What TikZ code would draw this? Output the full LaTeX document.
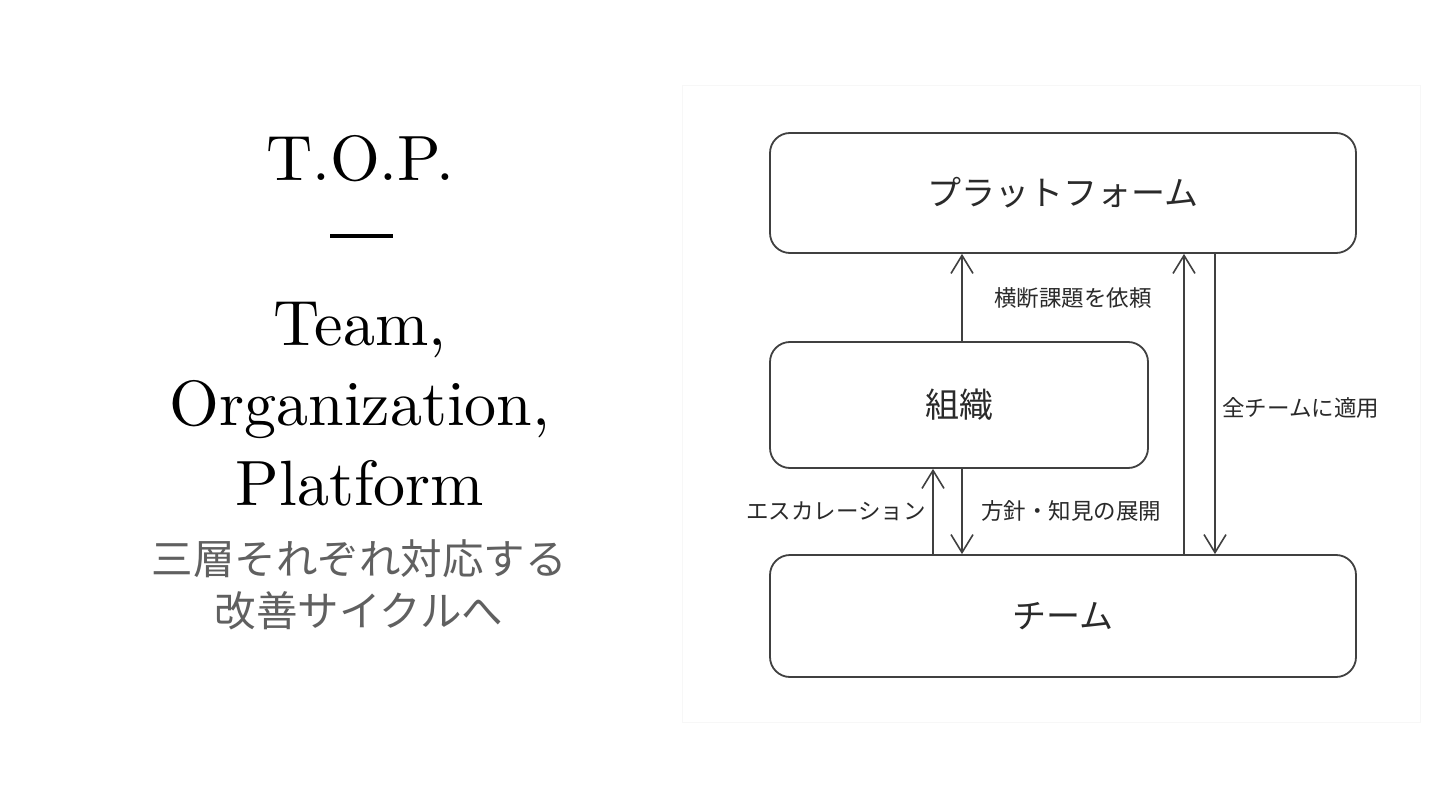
\documentclass[tikz,border=0pt]{standalone}
\usepackage{fontspec}
\newfontfamily\jp{Noto Sans CJK JP}
\newfontfamily\lmten[Extension=.otf]{lmroman10-regular}
\usetikzlibrary{arrows.meta}
\definecolor{linec}{HTML}{404040}
\definecolor{textc}{HTML}{2A2A2A}
\definecolor{subc}{HTML}{606060}
\begin{document}
\begin{tikzpicture}[x=1pt,y=-1pt,
  box/.style={draw=linec,line width=1.8pt,rounded corners=20pt,fill=white},
  boxlabel/.style={font=\jp\fontsize{34}{40}\selectfont,text=textc},
  edgelabel/.style={font=\jp\fontsize{22.5}{27}\selectfont,text=textc,inner sep=0pt},
  conn/.style={draw=linec,line width=1.6pt,-{Straight Barb[length=18pt,width=22pt,line width=1.6pt]}},
  title/.style={font=\lmten\fontsize{64}{70}\selectfont,text=black,anchor=base,inner sep=0pt},
  sub/.style={font=\jp\fontsize{41.5}{50}\selectfont,text=subc}]
\useasboundingbox (0,0) rectangle (1440,810);
\fill[white] (0,0) rectangle (1440,810);
\draw[black!3,line width=1pt] (682,86) rectangle (1420,722);
% left titles
\node[title] (top) at (360,181) {T.O.P.};
\draw[black,line width=3.5pt] (330,236) -- (393,236);
\node[title] (team) at (360,345) {Team,};
\node[title] (org) at (360,425) {Organization,};
\node[title] (plat) at (360,505) {Platform};
\node[sub] (s1) at (359,559) {三層それぞれ対応する};
\node[sub] (s2) at (359,611) {改善サイクルへ};
% boxes
\node[box,minimum width=586pt,minimum height=120pt] (P) at (1063,193) {};
\node[boxlabel] at (P.center) {プラットフォーム};
\node[box,minimum width=378pt,minimum height=126pt] (O) at (959,405) {};
\node[boxlabel] at (O.center) {組織};
\node[box,minimum width=586pt,minimum height=122pt] (T) at (1063,616) {};
\node[boxlabel] at (T.center) {チーム};
% connectors
\draw[conn] (O.north -| 962,0) -- (P.south -| 962,0);
\draw[conn] (T.north -| 1184,0) -- (P.south -| 1184,0);
\draw[conn] (P.south -| 1215,0) -- (T.north -| 1215,0);
\draw[conn] (T.north -| 933,0) -- (O.south -| 933,0);
\draw[conn] (O.south -| 962,0) -- (T.north -| 962,0);
% labels
\node[edgelabel,anchor=west] (l1) at (994,298) {横断課題を依頼};
\node[edgelabel,anchor=west] (l2) at (1222,408) {全チームに適用};
\node[edgelabel,anchor=east] (l3) at (926,511) {エスカレーション};
\node[edgelabel,anchor=west] (l4) at (981,511) {方針・知見の展開};
\end{tikzpicture}
\end{document}
